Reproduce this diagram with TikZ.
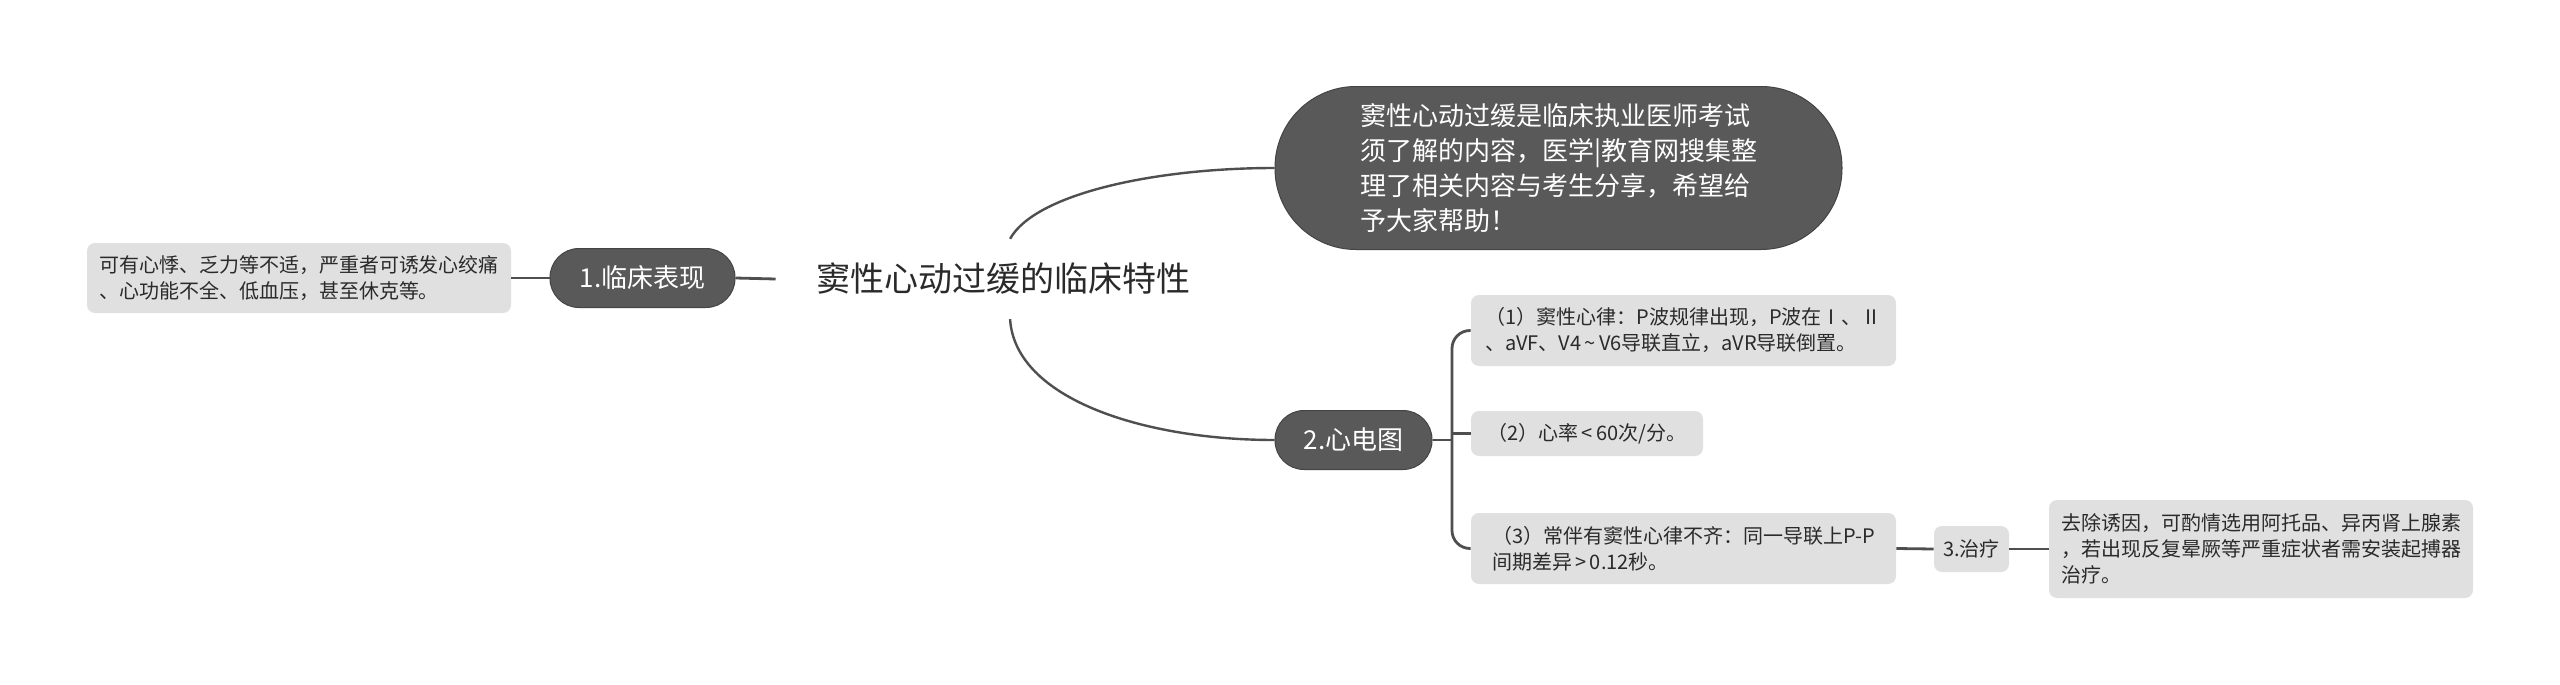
\documentclass[tikz,border=0pt]{standalone}
\usepackage{fontspec}
\setmainfont{Noto Sans CJK SC}
\definecolor{darkfill}{HTML}{595959}
\definecolor{darkedge}{HTML}{444444}
\definecolor{lightfill}{HTML}{E0E0E0}
\definecolor{txt}{HTML}{2A2A2A}
\definecolor{conn}{HTML}{4F4F4F}
\tikzset{
  pillnode/.style={draw=darkedge, line width=0.5pt, fill=darkfill, text=white, align=left, inner sep=0pt},
  leafnode/.style={fill=lightfill, text=txt, rounded corners=4pt, align=left, inner sep=0pt,
    font=\fontsize{10pt}{13pt}\selectfont},
  connline/.style={draw=conn, line width=1.4pt},
  curveline/.style={draw=conn, line width=1.2pt},
}
\begin{document}
\begin{tikzpicture}[x=0.5pt,y=-0.5pt]
\fill[white] (0,0) rectangle (2560,685);
\useasboundingbox (0,0) rectangle (2560,685);

% root
\node[text=txt, font=\fontsize{17pt}{20pt}\selectfont, inner xsep=20pt, inner ysep=12pt] (root) at (1003,279) {窦性心动过缓的临床特性};

% left branch
\node[pillnode, rounded corners=14.5pt, minimum width=92.5pt, minimum height=29.5pt,
  font=\fontsize{13pt}{16pt}\selectfont] (n1) at (642.5,278) {1.临床表现};
\node[leafnode, minimum width=212pt, minimum height=35pt] (leafL) at (299,278)
  {可有心悸、乏力等不适，严重者可诱发心绞痛\\、心功能不全、低血压，甚至休克等。};

% top pill
\node[pillnode, rounded corners=40.5pt, minimum width=283.5pt, minimum height=81.5pt,
  font=\fontsize{13pt}{17.5pt}\selectfont] (tp) at (1558.5,168)
  {窦性心动过缓是临床执业医师考试\\须了解的内容，医学|教育网搜集整\\理了相关内容与考生分享，希望给\\予大家帮助！};

% ECG branch
\node[pillnode, rounded corners=14.5pt, minimum width=78.5pt, minimum height=29.5pt,
  font=\fontsize{13pt}{16pt}\selectfont] (n2) at (1353.5,440) {2.心电图};
\node[leafnode, minimum width=212.5pt, minimum height=35.5pt] (b1) at (1683.5,330.5)
  {（1）窦性心律：P波规律出现，P波在Ⅰ、Ⅱ\\、aVF、V4\,\textasciitilde\,V6导联直立，aVR导联倒置。};
\node[leafnode, minimum width=116pt, minimum height=22.5pt] (b2) at (1587,433.5)
  {（2）心率\,<\,60次/分。};
\node[leafnode, minimum width=212.5pt, minimum height=35.5pt] (b3) at (1683.5,548.5)
  {（3）常伴有窦性心律不齐：同一导联上P-P\\间期差异\,>\,0.12秒。};

% treatment
\node[leafnode, align=center, minimum width=37.5pt, minimum height=23pt] (n3) at (1971.5,549) {3.治疗};
\node[leafnode, minimum width=212pt, minimum height=49pt] (leafR) at (2261,549)
  {去除诱因，可酌情选用阿托品、异丙肾上腺素\\，若出现反复晕厥等严重症状者需安装起搏器\\治疗。};

\coordinate (bx) at (1452,440);

% connectors
\draw[connline] (leafL.east) -- (n1.west);
\draw[connline] (n1.east) -- (root.west);
\draw[curveline] (root.80) .. controls +(25,-45) and +(-120,0) .. (tp.west);
\draw[curveline] (root.-80) .. controls +(5,80) and +(-130,0) .. (n2.west);
\draw[connline] (n2.east) -- (bx);
\draw[connline, rounded corners=9pt] (b1.west) -| (bx) |- (b3.west);
\draw[connline] (bx |- b2.west) -- (b2.west);
\draw[connline] (b3.east) -- (n3.west);
\draw[connline] (n3.east) -- (leafR.west);
\end{tikzpicture}
\end{document}
